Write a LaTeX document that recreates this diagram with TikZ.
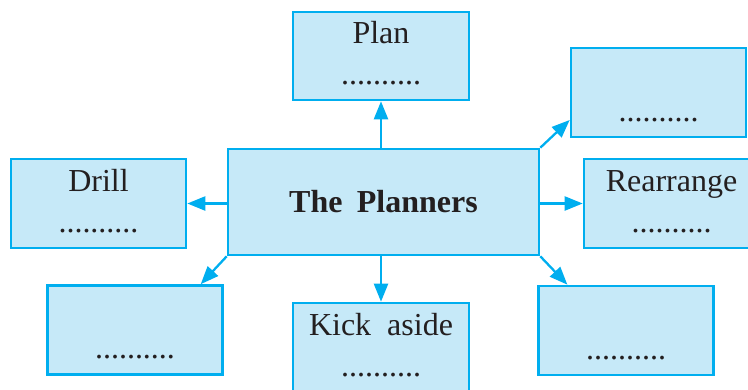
\documentclass[tikz,border=0pt]{standalone}
\usepackage{fontspec}
\setmainfont{Liberation Serif}
\usetikzlibrary{arrows.meta,calc}

\definecolor{boxline}{HTML}{00AEEF}
\definecolor{boxfill}{HTML}{C6E9F8}
\definecolor{ink}{HTML}{231F20}

\newcommand{\dotline}{\strut..........}

\begin{document}
\begin{tikzpicture}[x=1pt,y=-1pt,
    wordbox/.style={draw=boxline,fill=boxfill,line width=2.6pt,
      minimum width=175pt,minimum height=89pt,inner sep=0pt,
      align=center,text=ink,font=\fontsize{32}{41}\selectfont},
    link/.style={draw=boxline,line width=2.3pt,
      -{Triangle[length=18pt,width=14pt]}}]
    % Page
    \useasboundingbox (0,0) rectangle (748,389);
    \clip (0,0) rectangle (748,389);
  
    % Centre box
    \node[wordbox,minimum width=311pt,minimum height=106pt,
      font=\fontsize{32}{41}\selectfont\bfseries] (planners) at (383.5,202)
      {The\hspace{0.45em}Planners};
  
    % Word boxes
    \node[wordbox,minimum width=176pt,minimum height=88pt] (plan) at (381,56)
      {\strut Plan\\\dotline};
    \node[wordbox] (topright) at (658.5,92.5) {\strut\\\dotline};
    \node[wordbox] (rearrange) at (671.5,203.5) {\strut Rearrange\\\dotline};
    \node[wordbox] (botright) at (626,330.5) {\strut\\\dotline};
    \node[wordbox] (drill) at (98.5,203.5) {\strut Drill\\\dotline};
    \node[wordbox] (botleft) at (135,330) {\strut\\\dotline};
    \node[wordbox,minimum width=176pt] (kick) at (381,347.5)
      {\strut Kick\enspace aside\\\dotline};
  
    % Arrows
    \draw[link] (planners.north -| plan.south) -- (plan.south);
    \draw[link] (planners.south -| kick.north) -- (kick.north);
    \draw[link] (planners.west |- drill.east) -- (drill.east);
    \draw[link] (planners.east |- rearrange.west) -- (rearrange.west);
    \draw[link] (planners.north east)
      -- ($(topright.south west)!0.2!(topright.north west)$);
    \draw[link] (planners.south east)
      -- ($(botright.north west)!0.17!(botright.north east)$);
    \draw[link] (planners.south west)
      -- ($(botleft.north west)!0.87!(botleft.north east)$);
  \end{tikzpicture}
\end{document}
